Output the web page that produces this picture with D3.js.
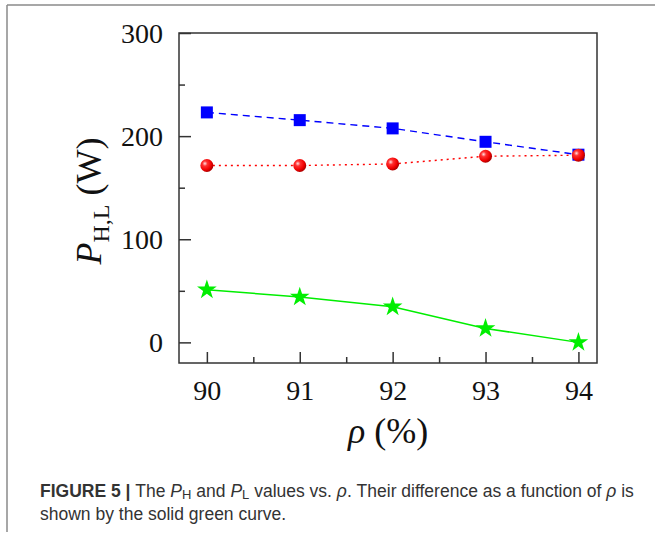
<!DOCTYPE html>
<html>
<head>
<meta charset="utf-8">
<script src="https://cdn.jsdelivr.net/npm/d3@7"></script>
<style>
  body { margin: 0; background: #fff; }
  svg { display: block; }
</style>
</head>
<body>
<svg id="chart" width="655" height="537"></svg>
<script>
// data
var rho = [90, 91, 92, 93, 94];
var pH = [223, 215.5, 207.5, 194.5, 182];
var pL = [171.5, 171.5, 173, 180.5, 181.5];
var diff = [51, 44, 34.5, 13.5, 0];
var yTicks = [0, 100, 200, 300];
var yMinor = [50, 150, 250];
var xTicks = [90, 91, 92, 93, 94];
var xMinor = [90.5, 91.5, 92.5, 93.5];

var svg = d3.select("#chart");
var m = { left: 179, right: 597, top: 33, bottom: 363 };

var x = d3.scaleLinear().domain([89.7, 94.2]).range([m.left, m.right]);
var y = d3.scaleLinear().domain([-20, 300]).range([m.bottom, m.top]);

// frame of the figure panel
svg.append("line").attr("x1", 7).attr("x2", 655).attr("y1", 5).attr("y2", 5)
    .attr("stroke", "#8a8a8a").attr("stroke-width", 1.5);
svg.append("line").attr("x1", 7).attr("x2", 7).attr("y1", 5).attr("y2", 532)
    .attr("stroke", "#8a8a8a").attr("stroke-width", 1.5);

// gradient for the red balls
var defs = svg.append("defs");
var grad = defs.append("radialGradient").attr("id", "ball")
    .attr("cx", "35%").attr("cy", "35%").attr("r", "65%");
grad.append("stop").attr("offset", "0%").attr("stop-color", "#ffe0e0");
grad.append("stop").attr("offset", "30%").attr("stop-color", "#ff3030");
grad.append("stop").attr("offset", "75%").attr("stop-color", "#f00000");
grad.append("stop").attr("offset", "100%").attr("stop-color", "#b00000");

var axisColor = "#333";

// axes, ticks inward
var yAxis = svg.append("g").attr("transform", "translate(" + m.left + ",0)")
    .call(d3.axisLeft(y).tickValues(yTicks).tickSizeInner(-12).tickSizeOuter(0).tickPadding(16).tickFormat(d3.format("d")));
svg.append("g").attr("transform", "translate(" + m.left + ",0)")
    .call(d3.axisLeft(y).tickValues(yMinor).tickSizeInner(-6).tickSizeOuter(0).tickFormat(""));
var xAxis = svg.append("g").attr("transform", "translate(0," + m.bottom + ")")
    .call(d3.axisBottom(x).tickValues(xTicks).tickSizeInner(-11).tickSizeOuter(0).tickPadding(17).tickFormat(d3.format("d")));
svg.append("g").attr("transform", "translate(0," + m.bottom + ")")
    .call(d3.axisBottom(x).tickValues(xMinor).tickSizeInner(-6).tickSizeOuter(0).tickFormat(""));

svg.selectAll(".domain").remove();
svg.selectAll(".tick line").attr("stroke", axisColor).attr("stroke-width", 1.5);
svg.selectAll(".tick text")
    .attr("font-family", "'Liberation Serif', 'Times New Roman', serif")
    .attr("font-size", 28).attr("fill", "#111");
yAxis.selectAll(".tick text").attr("dy", "0.34em");
xAxis.selectAll(".tick text").attr("dy", "0.72em");

// box
svg.append("rect").attr("x", m.left).attr("y", m.top)
    .attr("width", m.right - m.left).attr("height", m.bottom - m.top)
    .attr("fill", "none").attr("stroke", axisColor).attr("stroke-width", 1.5);

// series
var line = function (vals) {
    return d3.line().x(function (d, i) { return x(rho[i]); }).y(function (d) { return y(d); })(vals);
};

svg.append("path").attr("d", line(pH)).attr("fill", "none")
    .attr("stroke", "#0000ff").attr("stroke-width", 1.4).attr("stroke-dasharray", "7,5");
svg.append("path").attr("d", line(pL)).attr("fill", "none")
    .attr("stroke", "#ff0000").attr("stroke-width", 1.4).attr("stroke-dasharray", "2,4");
svg.append("path").attr("d", line(diff)).attr("fill", "none")
    .attr("stroke", "#00ee00").attr("stroke-width", 1.5);

svg.selectAll(".sq").data(pH).enter().append("rect")
    .attr("x", function (d, i) { return x(rho[i]) - 6; })
    .attr("y", function (d) { return y(d) - 6; })
    .attr("width", 12).attr("height", 12).attr("fill", "#0000ff");

svg.selectAll(".ball").data(pL).enter().append("circle")
    .attr("cx", function (d, i) { return x(rho[i]); })
    .attr("cy", function (d) { return y(d); })
    .attr("r", 6.5).attr("fill", "url(#ball)");

var star = d3.symbol().type(d3.symbolStar).size(120);
svg.selectAll(".star").data(diff).enter().append("path")
    .attr("d", star)
    .attr("transform", function (d, i) { return "translate(" + x(rho[i]) + "," + y(d) + ")"; })
    .attr("fill", "#00ee00");

// axis titles
var serif = "'Liberation Serif', 'Times New Roman', serif";
var yt = svg.append("text").attr("transform", "translate(101,201) rotate(-90)")
    .attr("text-anchor", "middle").attr("font-family", serif).attr("font-size", 36).attr("fill", "#111");
yt.append("tspan").attr("font-style", "italic").text("P");
yt.append("tspan").attr("font-size", 24).attr("dy", 8).text("H,L");
yt.append("tspan").attr("dy", -8).text(" (W)");

var xt = svg.append("text").attr("x", (m.left + m.right) / 2).attr("y", 443)
    .attr("text-anchor", "middle").attr("font-family", serif).attr("font-size", 36).attr("fill", "#111");
xt.append("tspan").attr("font-style", "italic").text("ρ");
xt.append("tspan").text(" (%)");

// caption
var sans = "'Liberation Sans', Arial, Helvetica, sans-serif";
var c1 = svg.append("text").attr("x", 40).attr("y", 497)
    .attr("font-family", sans).attr("font-size", 17.5).attr("fill", "#333");
c1.append("tspan").attr("font-weight", "bold").text("FIGURE 5 | ");
c1.append("tspan").text("The ");
c1.append("tspan").attr("font-style", "italic").text("P");
c1.append("tspan").attr("font-size", 13).attr("dy", 2).text("H");
c1.append("tspan").attr("dy", -2).text(" and ");
c1.append("tspan").attr("font-style", "italic").text("P");
c1.append("tspan").attr("font-size", 13).attr("dy", 2).text("L");
c1.append("tspan").attr("dy", -2).text(" values vs. ");
c1.append("tspan").attr("font-style", "italic").text("ρ");
c1.append("tspan").text(". Their difference as a function of ");
c1.append("tspan").attr("font-style", "italic").text("ρ");
c1.append("tspan").text(" is");

svg.append("text").attr("x", 40).attr("y", 520)
    .attr("font-family", sans).attr("font-size", 17.5).attr("fill", "#333")
    .text("shown by the solid green curve.");
</script>
</body>
</html>
